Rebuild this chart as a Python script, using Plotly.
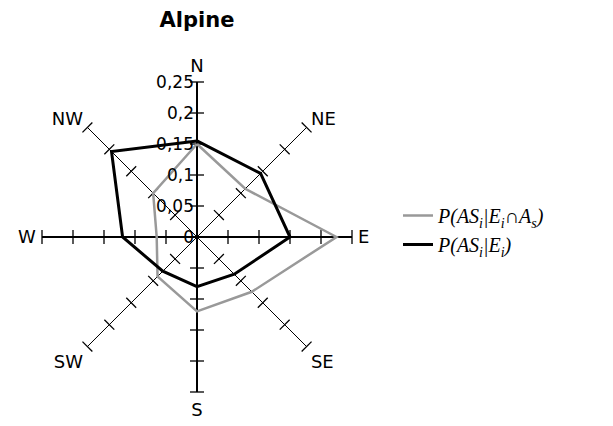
import plotly.graph_objects as go

# Wind-sector directions and probabilities for the Alpine region
directions = ["N", "NE", "E", "SE", "S", "SW", "W", "NW"]
p_joint = [0.15, 0.11, 0.225, 0.125, 0.12, 0.09, 0.065, 0.10]      # P(AS_i | E_i ∩ A_s)
p_cond = [0.155, 0.145, 0.15, 0.085, 0.08, 0.078, 0.12, 0.195]     # P(AS_i | E_i)

r_ticks = [0, 0.05, 0.1, 0.15, 0.2, 0.25]
r_tick_text = ["0", "0,05", "0,1", "0,15", "0,2", "0,25"]
r_max = 0.25
compass = [0, 45, 90, 135, 180, 225, 270, 315]

fig = go.Figure()

# Spokes: one axis line per direction, main axes slightly heavier
for d, ang in zip(directions, compass):
    fig.add_trace(go.Scatterpolar(
        r=[0, r_max], theta=[d, d], mode="lines",
        line=dict(color="black", width=2 if ang % 90 == 0 else 1),
        showlegend=False, hoverinfo="skip"))

# Tick marks across each spoke at every radial tick value
tick_r, tick_theta, tick_ang = [], [], []
for d, ang in zip(directions, compass):
    for v in r_ticks[1:]:
        tick_r.append(v)
        tick_theta.append(d)
        tick_ang.append(ang)
fig.add_trace(go.Scatterpolar(
    r=tick_r, theta=tick_theta, mode="markers",
    marker=dict(symbol="line-ew", size=10, angle=tick_ang,
                line=dict(color="black", width=1.3)),
    showlegend=False, hoverinfo="skip"))

# Data series
fig.add_trace(go.Scatterpolar(
    r=p_joint + p_joint[:1], theta=directions + directions[:1], mode="lines",
    line=dict(color="#999999", width=2.5),
    name="P(AS<sub>i</sub>|E<sub>i</sub>∩A<sub>s</sub>)"))
fig.add_trace(go.Scatterpolar(
    r=p_cond + p_cond[:1], theta=directions + directions[:1], mode="lines",
    line=dict(color="black", width=3),
    name="P(AS<sub>i</sub>|E<sub>i</sub>)"))

fig.update_layout(
    width=613, height=426,
    margin=dict(l=0, r=0, t=0, b=0),
    paper_bgcolor="white", plot_bgcolor="white",
    font=dict(family="DejaVu Sans, Arial, sans-serif", size=17, color="black"),
    title=dict(text="<b>Alpine</b>", x=197 / 613, xanchor="center",
               y=1 - 20 / 426, yanchor="middle",
               font=dict(family="DejaVu Sans", size=21, color="black")),
    polar=dict(
        domain=dict(x=[42 / 613, 352 / 613], y=[1 - 392 / 426, 1 - 82 / 426]),
        bgcolor="white",
        angularaxis=dict(type="category", categoryarray=directions,
                         rotation=90, direction="clockwise",
                         showgrid=False, showline=False,
                         ticks="outside", ticklen=2, tickcolor="rgba(0,0,0,0)",
                         tickfont=dict(family="DejaVu Sans", size=18, color="black")),
        radialaxis=dict(range=[0, r_max], tickvals=r_ticks, ticktext=r_tick_text,
                        angle=90, tickangle=90, showgrid=False, showline=False,
                        ticks="", side="counterclockwise",
                        tickfont=dict(family="DejaVu Sans", size=17, color="black")),
    ),
    legend=dict(x=398 / 613, y=1 - 230 / 426, xanchor="left", yanchor="middle",
                bgcolor="rgba(0,0,0,0)", itemwidth=30, tracegroupgap=0,
                font=dict(family="Liberation Serif, Times New Roman, serif",
                          size=20, color="black", style="italic")),
)

fig.write_html("out.html")
